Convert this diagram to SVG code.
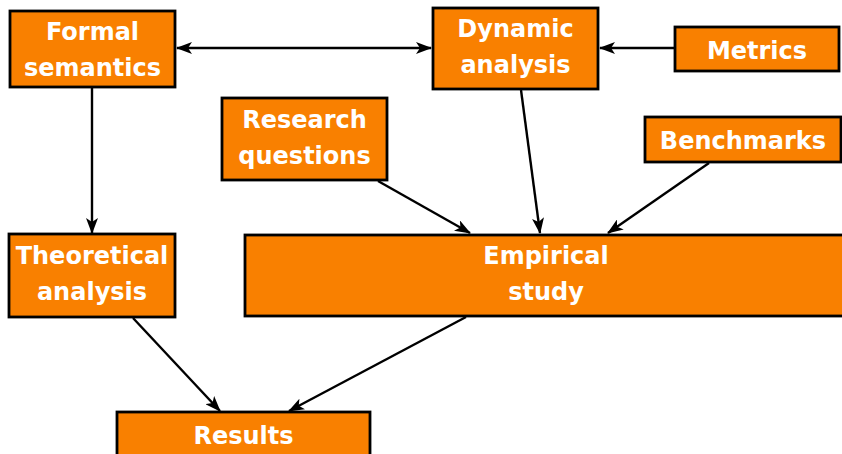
<svg xmlns="http://www.w3.org/2000/svg" width="842" height="454" viewBox="0 0 842 454">
<defs>
<marker id="ah" viewBox="0 0 16 12" refX="15" refY="6" markerWidth="16" markerHeight="12" markerUnits="userSpaceOnUse" orient="auto-start-reverse">
<path d="M0,0 L16,6 L0,12 L4,6 Z" fill="#000"/>
</marker>
<style>
.box{fill:#F98000;stroke:#000;stroke-width:2.8}
.t{font-family:"DejaVu Sans",sans-serif;font-weight:bold;font-size:24px;fill:#fff;text-anchor:middle}
.c{stroke:#000;stroke-width:2.4;fill:none;marker-end:url(#ah)}
</style>
</defs>
<rect width="842" height="454" fill="#fff"/>
<g id="connectors">
<line class="c" x1="177" y1="48" x2="431" y2="48" style="marker-start:url(#ah)"/>
<line class="c" x1="675" y1="48" x2="600" y2="48"/>
<line class="c" x1="92" y1="88" x2="92" y2="233"/>
<line class="c" x1="521" y1="90" x2="540" y2="233"/>
<line class="c" x1="378" y1="181" x2="470" y2="233"/>
<line class="c" x1="709" y1="163" x2="608" y2="233"/>
<line class="c" x1="133" y1="318" x2="220" y2="411"/>
<line class="c" x1="466" y1="317" x2="289" y2="411"/>
</g>
<g id="formal"><rect class="box" x="10" y="11" width="165" height="76"/><text class="t" x="92.5" y="40">Formal</text><text class="t" x="92.5" y="76">semantics</text></g>
<g id="dynamic"><rect class="box" x="433" y="8" width="165" height="81"/><text class="t" x="515.5" y="37">Dynamic</text><text class="t" x="515.5" y="73">analysis</text></g>
<g id="metrics"><rect class="box" x="675" y="27" width="164" height="44"/><text class="t" x="757" y="59">Metrics</text></g>
<g id="research"><rect class="box" x="222" y="98" width="165" height="82"/><text class="t" x="304.5" y="128">Research</text><text class="t" x="304.5" y="164">questions</text></g>
<g id="benchmarks"><rect class="box" x="645" y="117" width="196" height="45"/><text class="t" x="743" y="149">Benchmarks</text></g>
<g id="theoretical"><rect class="box" x="9" y="234" width="166" height="83"/><text class="t" x="92" y="264">Theoretical</text><text class="t" x="92" y="300">analysis</text></g>
<g id="empirical"><rect class="box" x="245" y="235" width="605" height="81"/><text class="t" x="546" y="264">Empirical</text><text class="t" x="546" y="300">study</text></g>
<g id="results"><rect class="box" x="117" y="412" width="253" height="50"/><text class="t" x="243.5" y="444">Results</text></g>
</svg>
